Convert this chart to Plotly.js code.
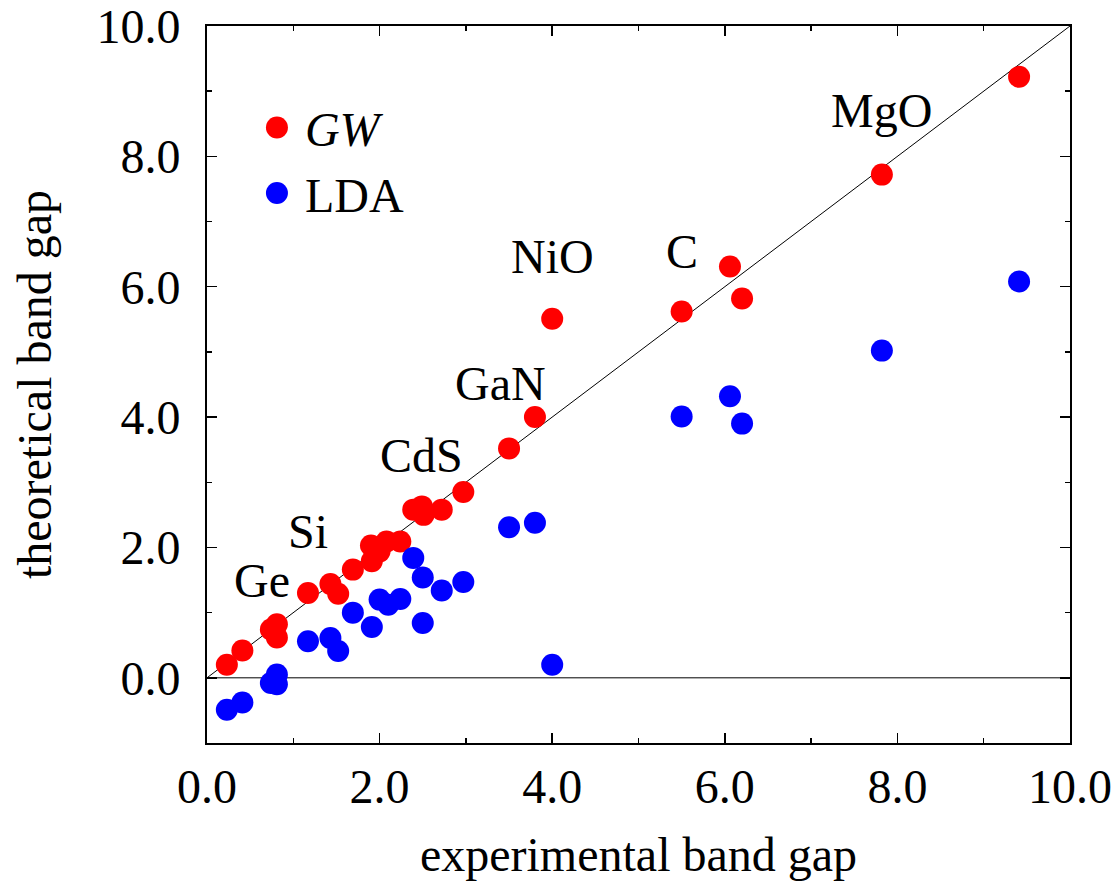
<!DOCTYPE html>
<html>
<head>
<meta charset="utf-8">
<script src="https://cdn.plot.ly/plotly-3.0.1.min.js"></script>
<style>html,body{margin:0;padding:0;background:#fff;}#chart{width:1115px;height:882px;}</style>
</head>
<body>
<div id="chart"></div>
<script>
// Experimental gaps (x) and theoretical gaps (y)
const gwExp = [0.23, 0.41, 0.74, 0.81, 0.81, 1.17, 1.43, 1.52, 1.69, 1.90, 1.91, 2.00, 2.08, 2.24, 2.39, 2.49, 2.51, 2.72, 2.97, 3.50, 3.80, 4.00, 5.50, 6.06, 6.20, 7.82, 9.41];
const gwTheo = [0.20, 0.42, 0.74, 0.82, 0.62, 1.30, 1.44, 1.29, 1.66, 2.03, 1.79, 1.94, 2.09, 2.09, 2.58, 2.63, 2.50, 2.58, 2.85, 3.52, 4.00, 5.51, 5.62, 6.31, 5.82, 7.72, 9.22];
const ldaExp = [0.23, 0.41, 0.74, 0.81, 0.81, 1.17, 1.43, 1.52, 1.69, 1.91, 2.00, 2.10, 2.24, 2.39, 2.50, 2.50, 2.72, 2.97, 3.50, 3.80, 4.00, 5.50, 6.06, 6.20, 7.82, 9.41];
const ldaTheo = [-0.49, -0.38, -0.08, 0.05, -0.10, 0.56, 0.61, 0.41, 1.00, 0.78, 1.20, 1.12, 1.21, 1.84, 1.54, 0.84, 1.34, 1.47, 2.31, 2.38, 0.20, 4.01, 4.32, 3.90, 5.02, 6.08];
const labelNames = ['Ge', 'Si', 'CdS', 'GaN', 'NiO', 'C', 'MgO'];
const labelX = [0.64, 1.17, 2.49, 3.40, 4.00, 5.50, 7.82];
const labelY = [1.49, 2.25, 3.41, 4.52, 6.46, 6.54, 8.70];
const diagX = [0, 10];
const diagY = [0, 10];
const zeroX = [0, 10];
const zeroY = [0, 0];
const xTicks = [0, 2, 4, 6, 8, 10];
const yTicks = [0, 2, 4, 6, 8, 10];

const FONT = 'Liberation Serif, Times New Roman, serif';
const FS = 48;

const traces = [
  {x: diagX, y: diagY, mode: 'lines', line: {color: '#000', width: 1}, showlegend: false, hoverinfo: 'skip'},
  {x: zeroX, y: zeroY, mode: 'lines', line: {color: '#000', width: 1}, showlegend: false, hoverinfo: 'skip'},
  {x: gwExp, y: gwTheo, mode: 'markers', name: '<i>GW</i>', marker: {color: '#ff0000', size: 22}},
  {x: ldaExp, y: ldaTheo, mode: 'markers', name: 'LDA', marker: {color: '#0000ff', size: 22}}
];

const annotations = labelNames.map((t, i) => ({
  x: labelX[i], y: labelY[i], xref: 'x', yref: 'y', text: t, showarrow: false,
  font: {family: FONT, size: FS, color: '#000'}
}));

const axisCommon = {
  showgrid: false, zeroline: false, showline: true, linecolor: '#000', linewidth: 2,
  mirror: 'ticks', ticks: 'inside', ticklen: 10, tickwidth: 1.5, tickcolor: '#000',
  tickformat: '.1f', tickfont: {family: FONT, size: FS, color: '#000'},
  ticklabeloverflow: 'allow',
  minor: {dtick: 1, ticks: 'inside', ticklen: 5, tickwidth: 1.5, tickcolor: '#000', showgrid: false}
};

const layout = {
  width: 1115, height: 882,
  margin: {l: 207, r: 45, t: 26, b: 139},
  paper_bgcolor: '#fff', plot_bgcolor: '#fff',
  font: {family: FONT, color: '#000'},
  xaxis: Object.assign({}, axisCommon, {
    range: [0, 10], tickvals: xTicks, ticklabelstandoff: 0,
    title: {text: 'experimental band gap', font: {family: FONT, size: FS, color: '#000'}, standoff: 26}
  }),
  yaxis: Object.assign({}, axisCommon, {
    range: [-1, 10], tickvals: yTicks, ticklabelstandoff: 15,
    title: {text: 'theoretical band gap', font: {family: FONT, size: FS, color: '#000'}, standoff: 6}
  }),
  legend: {x: 0.0486, y: 0.911, xanchor: 'left', yanchor: 'top', bgcolor: 'rgba(0,0,0,0)',
    font: {family: FONT, size: FS, color: '#000'}, itemsizing: 'trace', itemwidth: 46, tracegroupgap: 0},
  annotations: annotations,
  showlegend: true
};

Plotly.newPlot('chart', traces, layout, {displayModeBar: false, staticPlot: true}).then(() => {
  // enlarge legend symbols to match the plotted marker size
  document.querySelectorAll('#chart .legend .legendpoints path.scatterpts').forEach(p => {
    const t = p.getAttribute('transform') || '';
    p.setAttribute('transform', t + ' scale(1.375)');
  });
  // nudge the y-axis title further left, as in the reference
  const yt = document.querySelector('#chart g.g-ytitle');
  if (yt) yt.setAttribute('transform', 'translate(-24,0)');
});
</script>
</body>
</html>
